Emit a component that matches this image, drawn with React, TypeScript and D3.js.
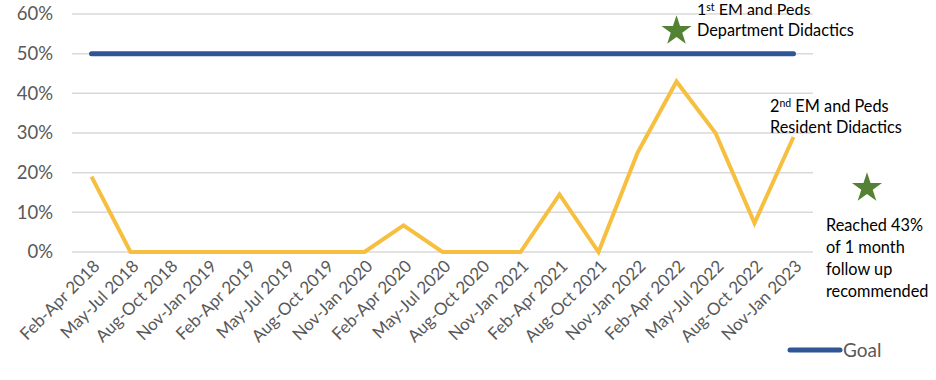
import React from "react";
import * as d3 from "d3";

const categories = [
  "Feb-Apr 2018", "May-Jul 2018", "Aug-Oct 2018", "Nov-Jan 2019", "Feb-Apr 2019",
  "May-Jul 2019", "Aug-Oct 2019", "Nov-Jan 2020", "Feb-Apr 2020", "May-Jul 2020",
  "Aug-Oct 2020", "Nov-Jan 2021", "Feb-Apr 2021", "Aug-Oct 2021", "Nov-Jan 2022",
  "Feb-Apr 2022", "May-Jul 2022", "Aug-Oct 2022", "Nov-Jan 2023",
];
const rateValues = [0.19, 0, 0, 0, 0, 0, 0, 0, 0.067, 0, 0, 0, 0.145, 0, 0.25, 0.43, 0.30, 0.073, 0.29];
const goalValues = categories.map(() => 0.5);
const yTicks = [0, 0.1, 0.2, 0.3, 0.4, 0.5, 0.6];

const FONT = "Lato, 'Open Sans', sans-serif";

export default function App() {
  const x = d3.scaleBand<string>().domain(categories).range([72, 813]).padding(0);
  const y = d3.scaleLinear().domain([0, 0.6]).range([252, 14]);
  const cx = (c: string) => (x(c) as number) + x.bandwidth() / 2;
  const line = d3.line<number>().x((_, i) => cx(categories[i])).y((d) => y(d));
  const star = d3.symbol().type(d3.symbolStar).size(280)() as string;
  const fmt = d3.format(".0%");

  return (
    <svg width={936} height={380} style={{ position: "absolute", left: 0, top: 0, background: "#fff" }} fontFamily={FONT}>
      {yTicks.map((t) => (
        <g key={t}>
          <line x1={72} x2={813} y1={y(t)} y2={y(t)} stroke="#d9d9d9" strokeWidth={1.5} />
          <text x={53} y={y(t)} dy="0.35em" textAnchor="end" fontSize={18.5} fill="#595959">{fmt(t)}</text>
        </g>
      ))}
      {categories.map((c) => (
        <text key={c} transform={`translate(${cx(c) + 5},${263}) rotate(-45)`} textAnchor="end" dy="0.35em" fontSize={17} fill="#595959">{c}</text>
      ))}
      <path d={line(goalValues) as string} fill="none" stroke="#2f5597" strokeWidth={5} strokeLinecap="round" />
      <path d={line(rateValues) as string} fill="none" stroke="#f6bf3f" strokeWidth={4} strokeLinejoin="miter" />

      <path d={star} transform={`translate(${cx("Feb-Apr 2022")},31)`} fill="#548235" />
      <text x={697} y={15} fontSize={16} fill="#000">1<tspan fontSize={10.5} dy={-4}>st</tspan><tspan dy={4}> EM and Peds</tspan></text>
      <text x={697} y={36} fontSize={16.3} fill="#000">Department Didactics</text>

      <text x={770} y={112} fontSize={16.3} fill="#000">2<tspan fontSize={10.5} dy={-5}>nd</tspan><tspan dy={5}> EM and Peds</tspan></text>
      <text x={770} y={133} fontSize={16.3} fill="#000">Resident Didactics</text>

      <path d={star} transform={`translate(867,188)`} fill="#548235" />
      {["Reached 43%", "of 1 month", "follow up", "recommended"].map((s, i) => (
        <text key={s} x={826} y={231 + i * 22} fontSize={16.3} fill="#000">{s}</text>
      ))}

      <line x1={790} x2={840} y1={350} y2={350} stroke="#2f5597" strokeWidth={5} strokeLinecap="round" />
      <text x={843} y={350} dy="0.35em" fontSize={19} fill="#595959">Goal</text>
    </svg>
  );
}
